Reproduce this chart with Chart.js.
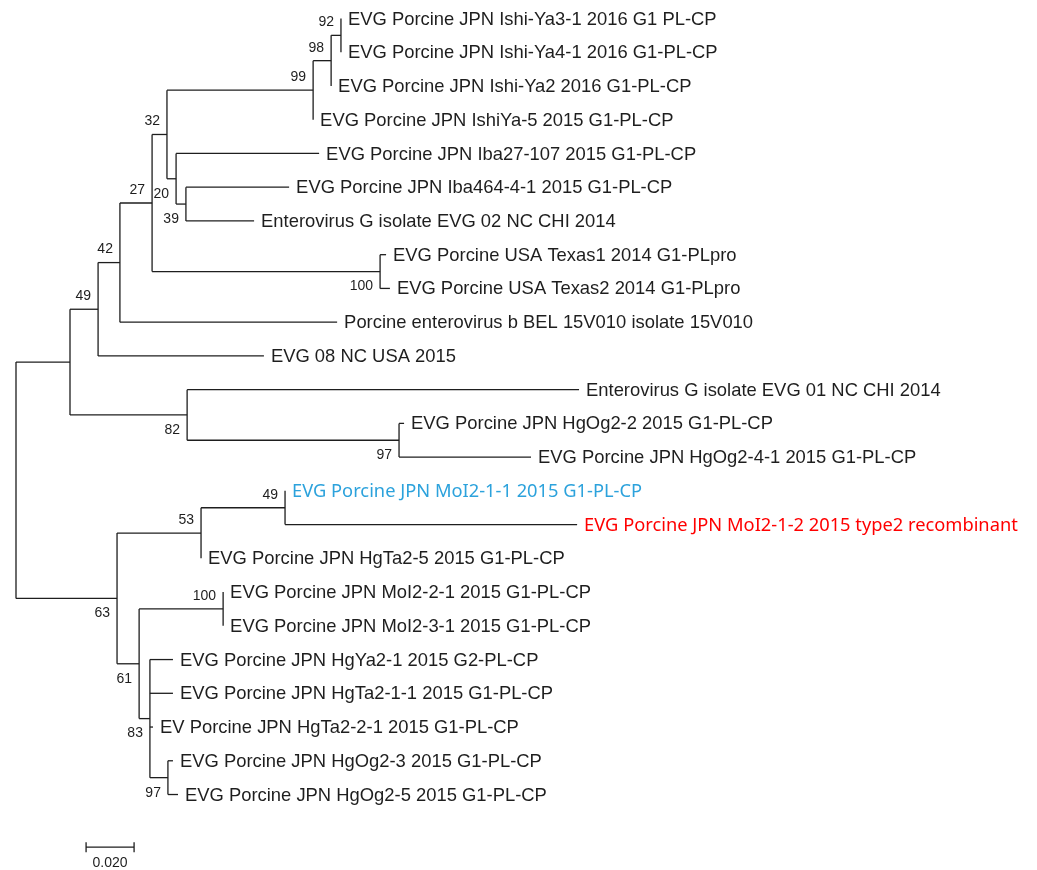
<!DOCTYPE html>
<html>
<head>
<meta charset="utf-8">
<script src="https://cdn.jsdelivr.net/npm/chart.js@4.4.1/dist/chart.umd.min.js"></script>
<style>
    html, body { margin: 0; padding: 0; background: #fff; }
    canvas { display: block; }
</style>
</head>
<body>
<canvas id="tree" width="1037" height="870"></canvas>
<script>
// tips, top to bottom
var leafNames = [
    "EVG Porcine JPN Ishi-Ya3-1 2016 G1 PL-CP",
    "EVG Porcine JPN Ishi-Ya4-1 2016 G1-PL-CP",
    "EVG Porcine JPN Ishi-Ya2 2016 G1-PL-CP",
    "EVG Porcine JPN IshiYa-5 2015 G1-PL-CP",
    "EVG Porcine JPN Iba27-107 2015 G1-PL-CP",
    "EVG Porcine JPN Iba464-4-1 2015 G1-PL-CP",
    "Enterovirus G isolate EVG 02 NC CHI 2014",
    "EVG Porcine USA Texas1 2014 G1-PLpro",
    "EVG Porcine USA Texas2 2014 G1-PLpro",
    "Porcine enterovirus b BEL 15V010 isolate 15V010",
    "EVG 08 NC USA 2015",
    "Enterovirus G isolate EVG 01 NC CHI 2014",
    "EVG Porcine JPN HgOg2-2 2015 G1-PL-CP",
    "EVG Porcine JPN HgOg2-4-1 2015 G1-PL-CP",
    "EVG Porcine JPN MoI2-1-1 2015 G1-PL-CP",
    "EVG Porcine JPN MoI2-1-2 2015 type2 recombinant",
    "EVG Porcine JPN HgTa2-5 2015 G1-PL-CP",
    "EVG Porcine JPN MoI2-2-1 2015 G1-PL-CP",
    "EVG Porcine JPN MoI2-3-1 2015 G1-PL-CP",
    "EVG Porcine JPN HgYa2-1 2015 G2-PL-CP",
    "EVG Porcine JPN HgTa2-1-1 2015 G1-PL-CP",
    "EV Porcine JPN HgTa2-2-1 2015 G1-PL-CP",
    "EVG Porcine JPN HgOg2-3 2015 G1-PL-CP",
    "EVG Porcine JPN HgOg2-5 2015 G1-PL-CP"
];

// distance from root to each tip
var leafDepth = [
    0.1354, 0.1354, 0.1313, 0.1238, 0.1263, 0.1138, 0.0992, 0.1542,
    0.1558, 0.1338, 0.1033, 0.2346, 0.1617, 0.2146, 0.1121, 0.2338,
    0.0771, 0.0863, 0.0863, 0.0654, 0.0654, 0.0571, 0.0654, 0.0675
];

// 0 = normal, 1 = parent strain, 2 = recombinant
var leafGroup = [0, 0, 0, 0, 0, 0, 0, 0, 0, 0, 0, 0, 0, 0, 1, 2, 0, 0, 0, 0, 0, 0, 0, 0];

// internal nodes (index 24 onwards); children refer to tips 0-23 or other nodes
var nodeDepth = [
    0.1354, 0.1313, 0.1238, 0.0708, 0.0667, 0.0629, 0.1517, 0.0567,
    0.0433, 0.0342, 0.1596, 0.0713, 0.0225, 0.1121, 0.0771, 0.0863,
    0.0633, 0.0558, 0.0513, 0.0421, 0
];
var nodeChildren = [
    [0, 1], [24, 2], [25, 3], [5, 6], [4, 27], [26, 28], [7, 8], [29, 30],
    [31, 9], [32, 10], [12, 13], [11, 34], [33, 35], [14, 15], [37, 16], [17, 18],
    [22, 23], [19, 20, 21, 40], [39, 41], [38, 42], [36, 43]
];
var nodeSupport = [
    92, 98, 99, 39, 20, 32, 100, 27,
    42, 49, 97, 82, null, 49, 53, 100,
    97, 83, 61, 63, null
];
var supportBelow = [
    false, false, false, true, true, false, true, false,
    false, false, true, true, false, false, false, false,
    true, true, true, true, false
];

var scaleBarValue = 0.02;
var scaleBarLabel = "0.020";

var nLeaves = leafNames.length;
var lineColor = '#1e1e1e';
var textColors = ['#1e1e1e', '#2ca2dc', '#ff0000'];

function depthOf(i) {
    return i < nLeaves ? leafDepth[i] : nodeDepth[i - nLeaves];
}

var rowCache = {};
function rowOf(i) {
    if (i < nLeaves) return i;
    if (rowCache[i] !== undefined) return rowCache[i];
    var ch = nodeChildren[i - nLeaves];
    rowCache[i] = (rowOf(ch[0]) + rowOf(ch[ch.length - 1])) / 2;
    return rowCache[i];
}

// one dataset per branch segment
var datasets = [];
function segment(x0, y0, x1, y1) {
    datasets.push({
        data: [{x: x0, y: y0}, {x: x1, y: y1}],
        showLine: true,
        borderColor: lineColor,
        borderWidth: 1.3,
        pointRadius: 0,
        pointHoverRadius: 0
    });
}

for (var n = 0; n < nodeDepth.length; n++) {
    var ch = nodeChildren[n];
    segment(nodeDepth[n], rowOf(ch[0]), nodeDepth[n], rowOf(ch[ch.length - 1]));
    for (var c = 0; c < ch.length; c++) {
        if (depthOf(ch[c]) > nodeDepth[n]) {
            segment(nodeDepth[n], rowOf(ch[c]), depthOf(ch[c]), rowOf(ch[c]));
        }
    }
}

var treeText = {
    id: 'treeText',
    afterDatasetsDraw: function(chart) {
        var ctx = chart.ctx;
        var xs = chart.scales.x, ys = chart.scales.y;
        ctx.save();
        ctx.textBaseline = 'middle';

        // tip names
        ctx.textAlign = 'left';
        for (var i = 0; i < nLeaves; i++) {
            if (leafGroup[i] == 0) {
                ctx.font = '18.4px "Liberation Sans", Arial, sans-serif';
            } else {
                ctx.font = '18.3px "Noto Sans", sans-serif';
            }
            ctx.fillStyle = textColors[leafGroup[i]];
            ctx.fillText(leafNames[i], xs.getPixelForValue(leafDepth[i]) + 7, ys.getPixelForValue(i) + 1);
        }

        // bootstrap values
        ctx.font = '14px "Liberation Sans", Arial, sans-serif';
        ctx.fillStyle = textColors[0];
        ctx.textAlign = 'right';
        for (var n = 0; n < nodeSupport.length; n++) {
            if (nodeSupport[n] == null) continue;
            var px = xs.getPixelForValue(nodeDepth[n]) - 7;
            var py = ys.getPixelForValue(rowOf(n + nLeaves)) + (supportBelow[n] ? 15 : -13);
            ctx.fillText(String(nodeSupport[n]), px, py);
        }

        // scale bar
        var bx0 = xs.getPixelForValue(0.0292);
        var bx1 = xs.getPixelForValue(0.0292 + scaleBarValue);
        var by = ys.getPixelForValue(24.56);
        ctx.strokeStyle = lineColor;
        ctx.lineWidth = 1.3;
        ctx.beginPath();
        ctx.moveTo(bx0, by); ctx.lineTo(bx1, by);
        ctx.moveTo(bx0, by - 5); ctx.lineTo(bx0, by + 5);
        ctx.moveTo(bx1, by - 5); ctx.lineTo(bx1, by + 5);
        ctx.stroke();
        ctx.textAlign = 'center';
        ctx.fillText(scaleBarLabel, (bx0 + bx1) / 2, by + 16);
        ctx.restore();
    }
};

var treeChart = new Chart(document.getElementById('tree').getContext('2d'), {
    type: 'scatter',
    data: { datasets: datasets },
    options: {
        responsive: false,
        animation: false,
        layout: { padding: 0 },
        plugins: {
            legend: { display: false },
            tooltip: { enabled: false }
        },
        scales: {
            x: { type: 'linear', display: false, min: -16 / 2400, max: 1021 / 2400 },
            y: { type: 'linear', display: false, reverse: true, min: -18.5 / 33.74, max: 851.5 / 33.74 }
        }
    },
    plugins: [treeText]
});
</script>
</body>
</html>
